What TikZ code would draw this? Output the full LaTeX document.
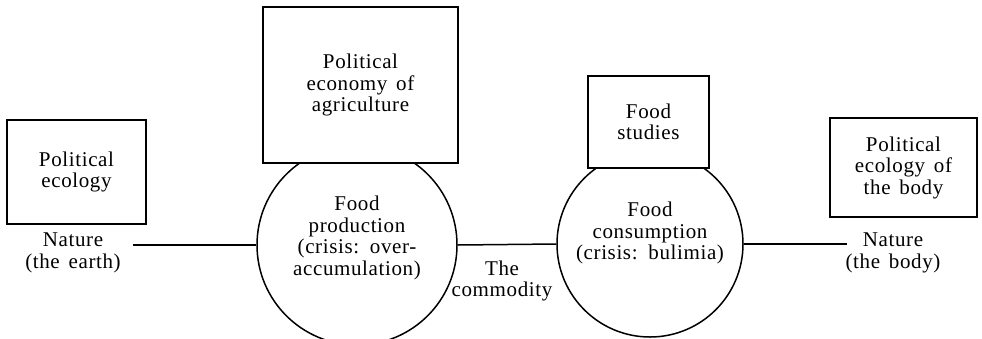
\documentclass[tikz,border=0pt]{standalone}
\usepackage{fontspec}
\setmainfont{Liberation Serif}[LetterSpace=3, WordSpace=1.5]

\begin{document}
\begin{tikzpicture}[x=1pt, y=-1pt,
  topic/.style={rectangle, draw, fill=white, line width=1.5pt, align=center, inner sep=0pt, font=\fontsize{21}{21.5}\selectfont},
  sphere/.style={circle, draw, line width=1.5pt, inner sep=0pt},
  caption/.style={align=center, inner sep=0pt, font=\fontsize{21}{21.5}\selectfont},
  link/.style={line width=1.5pt}
]
\useasboundingbox (0,0) rectangle (982,338);

% --------- SPHERES ----------
\node[sphere, minimum size=200pt] (prod) at (357,245) {};
\node[sphere, minimum size=186pt] (cons) at (650,244) {};

\node[caption] (prodtxt) at (357,238) {Food\\production\\(crisis: over-\\accumulation)};
\node[caption] (constxt) at (650,233) {Food\\consumption\\(crisis: bulimia)};

% --------- FIELDS OF STUDY ----------
\node[topic, minimum width=139pt, minimum height=104pt] (pe) at (76.5,172) {Political\\ecology};
\node[topic, minimum width=195pt, minimum height=156pt] (pea) at (360.5,85) {Political\\economy of\\agriculture};
\node[topic, minimum width=121pt, minimum height=92pt] (fs) at (648.5,122) {Food\\studies};
\node[topic, minimum width=147pt, minimum height=99pt] (peb) at (903.5,167.5) {Political\\ecology of\\the body};

% --------- CHAIN ----------
\node[caption] (earth) at (73,253) {Nature\\(the earth)};
\node[caption] (comm) at (502,281) {The\\commodity};
\node[caption] (body) at (893,253) {Nature\\(the body)};

\coordinate (earthend) at (133,245);
\coordinate (bodyend) at (847,244);

\draw[link] (earthend) -- (prod.west);
\draw[link] (prod.east) -- (cons.west);
\draw[link] (cons.east) -- (bodyend);

\end{tikzpicture}
\end{document}
